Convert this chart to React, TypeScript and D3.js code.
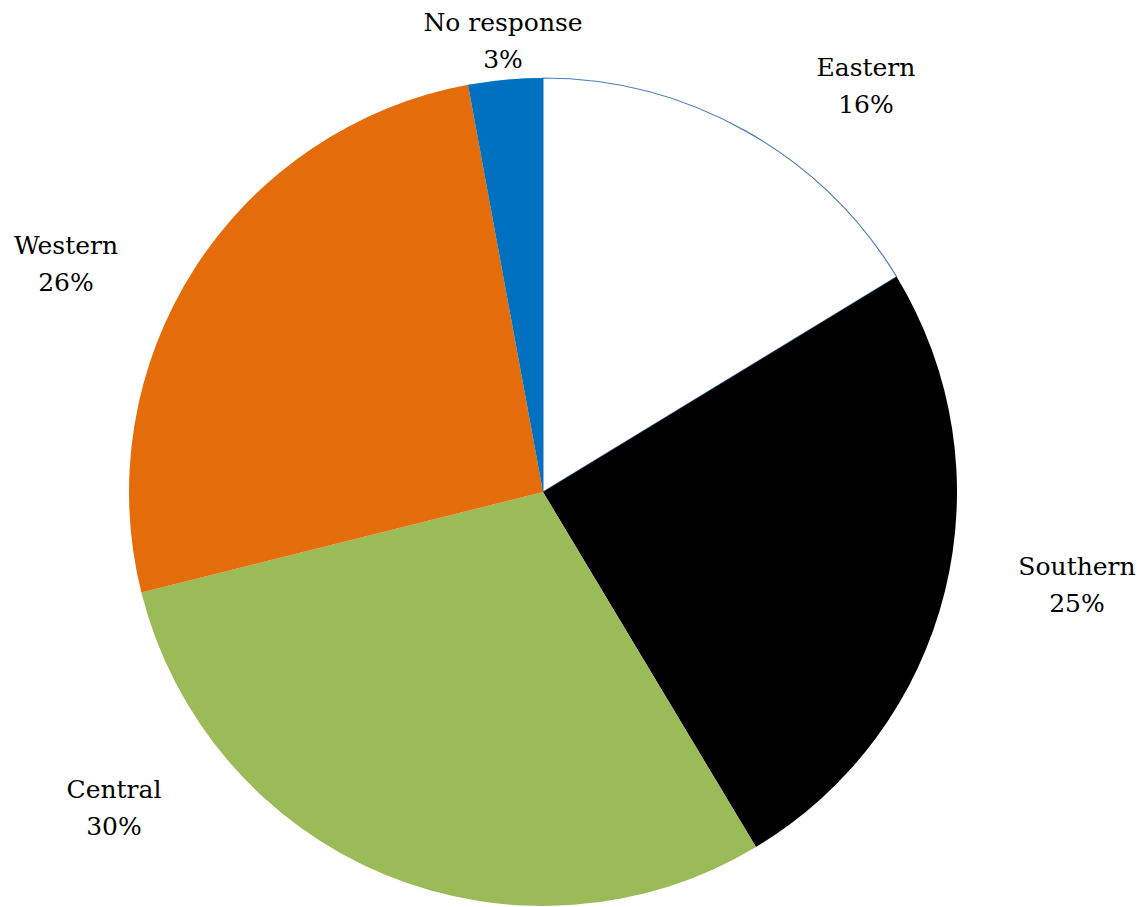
import React from "react";
import * as d3 from "d3";

const categories = ["Eastern", "Southern", "Central", "Western", "No response"];
const values = [16.3, 25.1, 29.7, 26.0, 2.9];
const labels = ["16%", "25%", "30%", "26%", "3%"];
const colors = ["#FFFFFF", "#000000", "#9BBB59", "#E46C0A", "#0070C0"];
// label layout (center x, first baseline y)
const labelPos: [number, number][] = [
  [866, 76],
  [1077, 575],
  [114, 798],
  [66, 254],
  [503, 31],
];

export default function App() {
  const W = 1140, H = 907;
  const cx = 543, cy = 492, r = 414;
  const pie = d3.pie<number>().sort(null).value((d) => d)(values);
  const arc = d3.arc<d3.PieArcDatum<number>>().innerRadius(0).outerRadius(r);
  return (
    <div style={{ position: "absolute", left: 0, top: 0, width: W, height: H }}>
      <svg width={W} height={H} style={{ display: "block" }}>
        <rect width={W} height={H} fill="#fff" />
        <g transform={`translate(${cx},${cy})`}>
          {pie.map((p, i) => (
            <path
              key={i}
              d={arc(p) || ""}
              fill={colors[i]}
              stroke={i === 0 ? "#4A7EBB" : "none"}
              strokeWidth={i === 0 ? 1.2 : 0}
            />
          ))}
        </g>
        {categories.map((c, i) => (
          <text
            key={c}
            x={labelPos[i][0]}
            y={labelPos[i][1]}
            textAnchor="middle"
            fontFamily="DejaVu Serif"
            fontSize={25}
            fill="#000"
          >
            <tspan x={labelPos[i][0]} y={labelPos[i][1]}>{c}</tspan>
            <tspan x={labelPos[i][0]} y={labelPos[i][1] + 36.5}>{labels[i]}</tspan>
          </text>
        ))}
      </svg>
    </div>
  );
}
